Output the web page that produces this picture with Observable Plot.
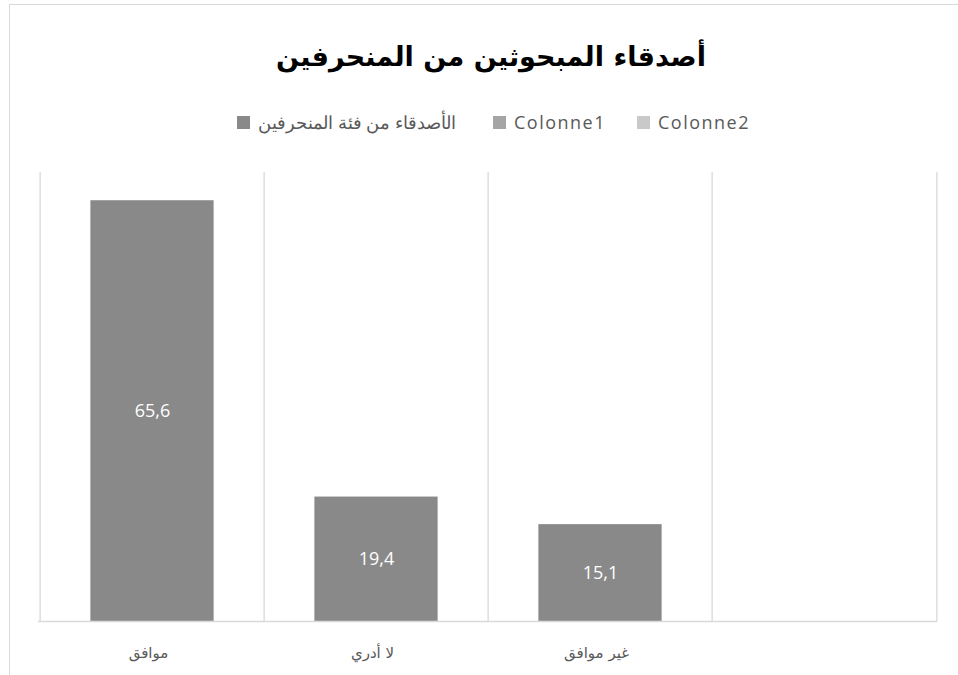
<!DOCTYPE html>
<html><head><meta charset="utf-8">
<script src="https://cdn.jsdelivr.net/npm/d3@7"></script>
<script src="https://cdn.jsdelivr.net/npm/@observablehq/plot@0.6"></script>
<style>
body{margin:0;background:#fff;}
#chart{position:relative;width:958px;height:675px;overflow:hidden;background:#fff;}
#border{position:absolute;left:9px;top:4px;width:1000px;height:1000px;border-left:1px solid #d9d9d9;border-top:1px solid #d9d9d9;pointer-events:none;z-index:5;}
#title{position:absolute;left:0;width:982px;top:40px;text-align:center;font-weight:bold;font-size:27px;font-family:"DejaVu Sans",sans-serif;color:#000;direction:rtl;line-height:34px;margin:0;}
#legend{position:absolute;left:0;top:110px;width:958px;height:24px;font-family:"Open Sans",sans-serif;font-size:18px;color:#595959;}
#legend .item{position:absolute;top:0;height:24px;display:flex;align-items:center;white-space:nowrap;}
#legend .sw{width:13px;height:13px;margin-right:8px;}
#plot{position:absolute;left:0;top:150px;}
</style>
</head><body>
<div id="chart">
  <div id="border"></div>
  <h1 id="title"></h1>
  <div id="legend"></div>
  <div id="plot"></div>
</div>
<script>
const title = "أصدقاء المبحوثين من المنحرفين";
const categories = ["موافق", "لا أدري", "غير موافق", ""];
const values = [65.6, 19.4, 15.1];
const legendLabels = ["الأصدقاء من فئة المنحرفين", "Colonne1", "Colonne2"];
const legendColors = ["#898989", "#a5a5a5", "#c9c9c9"];
const yDomain = [0, 70];

document.getElementById("title").textContent = title;
const legend = document.getElementById("legend");
const legendLeft = [237, 493, 637];
const legendSpacing = ["0.4px", "1.5px", "1.5px"];
legendLabels.forEach((lab, i) => {
  const it = document.createElement("div");
  it.className = "item";
  it.style.left = legendLeft[i] + "px";
  const sw = document.createElement("span");
  sw.className = "sw";
  sw.style.background = legendColors[i];
  const tx = document.createElement("span");
  tx.textContent = lab;
  tx.style.letterSpacing = legendSpacing[i];
  it.appendChild(sw); it.appendChild(tx);
  legend.appendChild(it);
});

const data = values.map((v, i) => ({cat: categories[i], value: v}));
const W = 958, H = 525, mL = 38, mR = 21, mT = 22, mB = 54;
const bw = (W - mL - mR) / categories.length;
const barW = 124;
const inset = (bw - barW) / 2;

const chart = Plot.plot({
  width: W, height: H,
  marginLeft: mL, marginRight: mR, marginTop: mT, marginBottom: mB,
  style: {background: "transparent", color: "#595959", overflow: "visible"},
  x: {domain: categories, padding: 0, axis: null},
  y: {domain: yDomain, axis: null},
  marks: [
    Plot.ruleX(categories, {x: d => d, dx: -bw / 2, y1: yDomain[0], y2: yDomain[1], stroke: "#d9d9d9", strokeWidth: 1.3}),
    Plot.ruleX([categories[categories.length - 1]], {x: d => d, dx: bw / 2, y1: yDomain[0], y2: yDomain[1], stroke: "#d9d9d9", strokeWidth: 1.3}),
    Plot.barY(data, {x: "cat", y: "value", fill: "#898989", insetLeft: inset, insetRight: inset}),
    Plot.ruleY([0], {stroke: "#d9d9d9", strokeWidth: 1.3}),
    Plot.text(data, {x: "cat", y: d => d.value / 2, text: d => String(d.value).replace(".", ","), fill: "white", fontSize: 18, fontFamily: "Open Sans"}),
    Plot.axisX({tickSize: 0, tickPadding: 26, dx: -4, fontSize: 15, fontFamily: "DejaVu Sans", tickFormat: d => d, label: null})
  ]
});
chart.querySelectorAll("text").forEach(t => {
  if (categories.includes(t.textContent) && t.textContent) t.style.letterSpacing = "1.5px";
});
document.getElementById("plot").appendChild(chart);
</script>
</body></html>
